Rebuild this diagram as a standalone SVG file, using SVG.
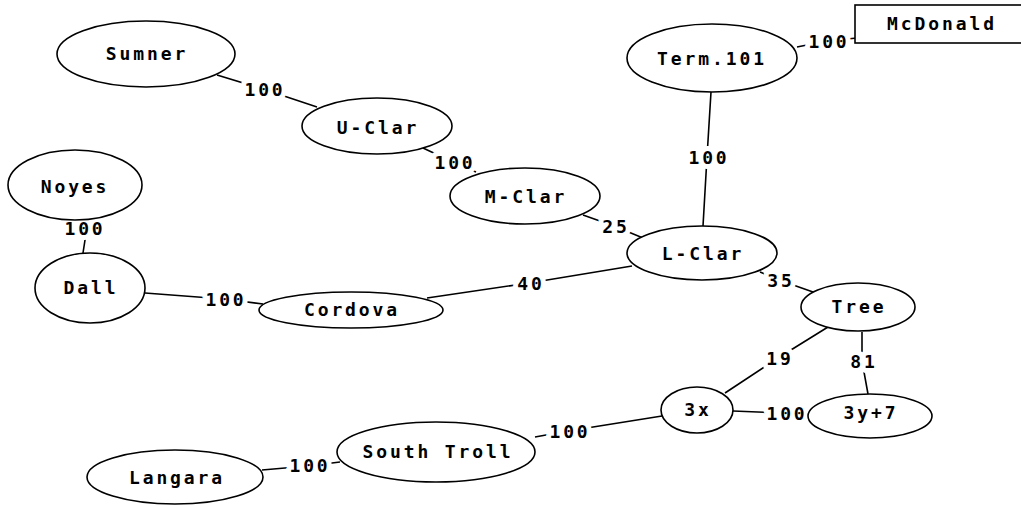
<svg xmlns="http://www.w3.org/2000/svg" width="1021" height="505" viewBox="0 0 1021 505">
<style>
.n ellipse,.n rect{fill:#fff;stroke:#000;stroke-width:1.6}
text{font-family:"DejaVu Sans Mono","Liberation Mono",monospace;font-weight:bold;font-size:18px;letter-spacing:2.9px;fill:#000;text-anchor:middle}
.e polyline{fill:none;stroke:#000;stroke-width:1.6}
.e text{stroke:#fff;stroke-width:10px;paint-order:stroke;stroke-linejoin:round}
</style>
<rect width="1021" height="505" fill="#fff"/>
<g class="e" id="connectors">
<polyline points="217,75 263,89 317,107"/>
<polyline points="423,148 453,162 476,172"/>
<polyline points="80,219 83,228 85,240 83,253"/>
<polyline points="583,215 614,226 643,238"/>
<polyline points="711,92 707,157 703,226"/>
<polyline points="797,47 827,41 857,38"/>
<polyline points="145,293 224,299 263,304"/>
<polyline points="427,298 529,283 632,266"/>
<polyline points="760,272 779,280 813,292"/>
<polyline points="828,327 778,358 725,393"/>
<polyline points="862,332 862,361 868,394"/>
<polyline points="733,411 785,413 808,413"/>
<polyline points="535,437 568,431 662,416"/>
<polyline points="262,470 308,466 340,462"/>
<text x="265" y="96">100</text>
<text x="455" y="169">100</text>
<text x="85" y="235">100</text>
<text x="616" y="233">25</text>
<text x="709" y="164">100</text>
<text x="829" y="48">100</text>
<text x="226" y="306">100</text>
<text x="531" y="290">40</text>
<text x="781" y="287">35</text>
<text x="780" y="365">19</text>
<text x="864" y="368">81</text>
<text x="787" y="420">100</text>
<text x="570" y="438">100</text>
<text x="310" y="472">100</text>
</g>
<g class="n" id="sumner"><ellipse cx="146" cy="54" rx="89" ry="33"/><text x="147" y="60">Sumner</text></g>
<g class="n" id="uclar"><ellipse cx="377" cy="126" rx="75" ry="28"/><text x="378" y="134">U-Clar</text></g>
<g class="n" id="noyes"><ellipse cx="75" cy="185" rx="67" ry="35"/><text x="75" y="193">Noyes</text></g>
<g class="n" id="mclar"><ellipse cx="525" cy="196" rx="75" ry="28"/><text x="526" y="203">M-Clar</text></g>
<g class="n" id="term101"><ellipse cx="712" cy="58" rx="85" ry="34"/><text x="712" y="65">Term.101</text></g>
<g class="n" id="mcdonald"><rect x="855" y="5" width="170" height="38"/><text x="942" y="30">McDonald</text></g>
<g class="n" id="lclar"><ellipse cx="702" cy="253" rx="75" ry="27"/><text x="703" y="260">L-Clar</text></g>
<g class="n" id="tree"><ellipse cx="858" cy="307" rx="57" ry="24"/><text x="859" y="313">Tree</text></g>
<g class="n" id="dall"><ellipse cx="90" cy="288" rx="55" ry="35"/><text x="91" y="294">Dall</text></g>
<g class="n" id="cordova"><ellipse cx="351" cy="310" rx="92" ry="18"/><text x="352" y="316">Cordova</text></g>
<g class="n" id="n3x"><ellipse cx="697" cy="410" rx="36" ry="23"/><text x="698" y="416">3x</text></g>
<g class="n" id="n3y7"><ellipse cx="870" cy="416" rx="62" ry="22"/><text x="871" y="419">3y+7</text></g>
<g class="n" id="southtroll"><ellipse cx="436" cy="452" rx="99" ry="30"/><text x="438" y="458">South Troll</text></g>
<g class="n" id="langara"><ellipse cx="175" cy="477" rx="88" ry="27"/><text x="177" y="484">Langara</text></g>
</svg>
